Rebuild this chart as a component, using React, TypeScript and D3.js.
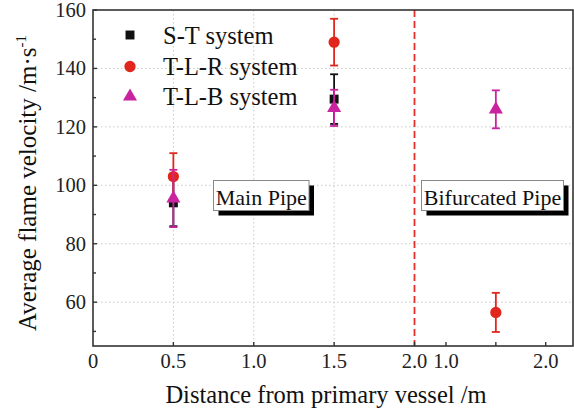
import React from "react";
import * as d3 from "d3";

// ---- data ----
const seriesNames = ["S-T system", "T-L-R system", "T-L-B system"];
const positions = [0.5, 1.5, 1.5];
const segments = ["main", "main", "bifurcated"];
const stValues = [94, 129.5, null];
const stErrors = [8, 8.5, null];
const tlrValues = [103, 149, 56.5];
const tlrErrors = [8, 8, 6.7];
const tlbValues = [95.5, 126.5, 126];
const tlbErrors = [9.8, 6.2, 6.5];
const yTicks = [60, 80, 100, 120, 140, 160];
const yMinorTicks = [50, 70, 90, 110, 130, 150];
const xMainTicks = [0, 0.5, 1.0, 1.5, 2.0];
const xMainLabels = ["0", "0.5", "1.0", "1.5", "2.0"];
const xBranchTicks = [1.0, 1.5, 2.0];
const xBranchLabels = ["1.0", "", "2.0"];
const xGrid = [0.5, 1.0, 1.5];
const yGrid = [60, 80, 100, 120, 140];
const annotations = ["Main Pipe", "Bifurcated Pipe"];

const W = 574, H = 414;
const L = 93, R = 573, T = 10, B = 346;
const FONT = "'Liberation Serif', 'Times New Roman', serif";

export default function App() {
  const xMain = d3.scaleLinear().domain([0, 2]).range([L, 414.5]);
  const xBranch = d3.scaleLinear().domain([1, 2]).range([446, 545.7]);
  const y = d3.scaleLinear().domain([45, 160]).range([B, T]);
  const xOf = (i: number) => (segments[i] === "main" ? xMain(positions[i]) : xBranch(positions[i]));

  const colors = ["#111111", "#e0261d", "#c9239f"];
  const vals = [stValues, tlrValues, tlbValues];
  const errs = [stErrors, tlrErrors, tlbErrors];
  const sym = [d3.symbolSquare, d3.symbolCircle, d3.symbolTriangle];
  const symSize = [80, 100, 85];

  const marker = (s: number, cx: number, cy: number, key: string) => (
    <path key={key} d={d3.symbol().type(sym[s]).size(symSize[s])()!} transform={`translate(${cx},${cy})`} fill={colors[s]} />
  );

  const breakX = xMain(2);

  return (
    <svg width={W} height={H} style={{ position: "absolute", left: 0, top: 0, background: "#fff" }} fontFamily={FONT}>
      <rect x={0} y={0} width={W} height={H} fill="#fff" />
      {/* grid */}
      {yGrid.map((v) => (
        <line key={"gy" + v} x1={L} x2={R} y1={y(v)} y2={y(v)} stroke="#c8c8c8" strokeWidth={1} strokeDasharray="1.5,2.5" />
      ))}
      {xGrid.map((v) => (
        <line key={"gx" + v} x1={xMain(v)} x2={xMain(v)} y1={T} y2={B} stroke="#c8c8c8" strokeWidth={1} strokeDasharray="1.5,2.5" />
      ))}
      {/* break line */}
      <line x1={breakX} x2={breakX} y1={T} y2={B} stroke="#e8302a" strokeWidth={1.8} strokeDasharray="7,4" />

      {/* annotation boxes */}
      {[
        { x: 213.5, w: 95.5, label: annotations[0] },
        { x: 421.5, w: 142, label: annotations[1] },
      ].map((a) => (
        <g key={a.label}>
          <rect x={a.x + 5} y={185.5} width={a.w} height={30} fill="#000" />
          <rect x={a.x} y={180.5} width={a.w} height={30} fill="#fff" stroke="#888" strokeWidth={1} />
          <text x={a.x + a.w / 2} y={205} fontSize={22} textAnchor="middle" fill="#111">{a.label}</text>
        </g>
      ))}

      {/* series */}
      {[0, 1, 2].map((s) => (
        <g key={"s" + s}>
          {positions.map((_, i) => {
            const v = vals[s][i];
            const e = errs[s][i];
            if (v == null || e == null) return null;
            const cx = xOf(i);
            return (
              <g key={i} stroke={colors[s]} strokeWidth={1.8}>
                <line x1={cx} x2={cx} y1={y(v + e)} y2={y(v - e)} />
                <line x1={cx - 4} x2={cx + 4} y1={y(v + e)} y2={y(v + e)} />
                <line x1={cx - 4} x2={cx + 4} y1={y(v - e)} y2={y(v - e)} />
              </g>
            );
          })}
          {positions.map((_, i) => {
            const v = vals[s][i];
            if (v == null) return null;
            return marker(s, xOf(i), y(v), "m" + s + i);
          })}
        </g>
      ))}

      {/* frame */}
      <rect x={L} y={T} width={R - L} height={B - T} fill="none" stroke="#333" strokeWidth={1.6} />

      {/* y ticks */}
      {yTicks.map((v) => (
        <g key={"yt" + v}>
          <line x1={L} x2={L + 4} y1={y(v)} y2={y(v)} stroke="#333" strokeWidth={1.4} />
          <text x={86} y={y(v) + 7} fontSize={20.5} textAnchor="end" fill="#222">{v}</text>
        </g>
      ))}
      {yMinorTicks.map((v) => (
        <line key={"ym" + v} x1={L} x2={L + 3} y1={y(v)} y2={y(v)} stroke="#333" strokeWidth={1.4} />
      ))}

      {/* x ticks */}
      {xMainTicks.map((v, i) => (
        <g key={"xt" + v}>
          {v > 0 && <line x1={xMain(v)} x2={xMain(v)} y1={B} y2={B - 4} stroke="#333" strokeWidth={1.4} />}
          <text x={xMain(v)} y={368} fontSize={20.5} textAnchor="middle" fill="#222">{xMainLabels[i]}</text>
        </g>
      ))}
      {xBranchTicks.map((v, i) => (
        <g key={"xb" + v}>
          <line x1={xBranch(v)} x2={xBranch(v)} y1={B} y2={B - 4} stroke="#333" strokeWidth={1.4} />
          {xBranchLabels[i] && (
            <text x={xBranch(v)} y={368} fontSize={20.5} textAnchor="middle" fill="#222">{xBranchLabels[i]}</text>
          )}
        </g>
      ))}

      {/* axis titles */}
      <text x={326} y={402.5} fontSize={24.5} textAnchor="middle" fill="#111">Distance from primary vessel /m</text>
      <text transform={`translate(36,183) rotate(-90)`} fontSize={25} textAnchor="middle" fill="#111">
        Average flame velocity /m·s<tspan fontSize={15} dy={-10}>-1</tspan>
      </text>

      {/* legend */}
      {seriesNames.map((n, s) => {
        const ly = [35, 66.5, 96.5][s];
        return (
          <g key={n}>
            {marker(s, 130, ly, "lg" + s)}
            <text x={163} y={ly + 8.5} fontSize={24.5} fill="#111">{n}</text>
          </g>
        );
      })}
    </svg>
  );
}
